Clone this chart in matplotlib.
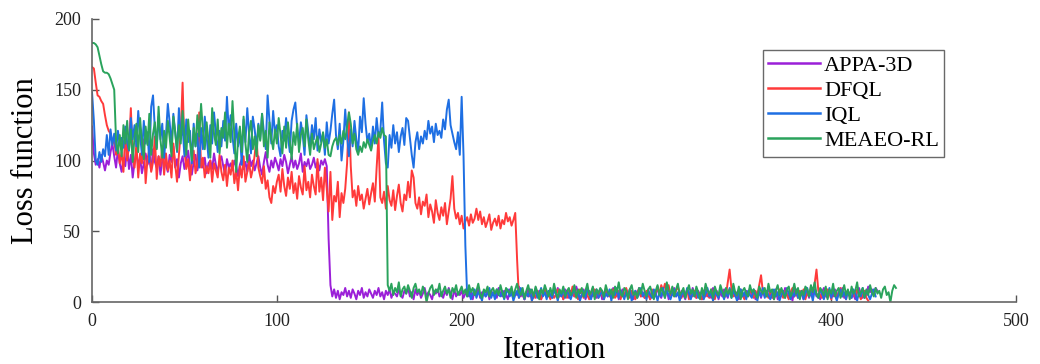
import matplotlib
matplotlib.use("Agg")
import matplotlib.pyplot as plt

# ---------------- data ----------------
series_names = ["APPA-3D", "DFQL", "IQL", "MEAEO-RL"]
x_ticks = [0, 100, 200, 300, 400, 500]
y_ticks = [0, 50, 100, 150, 200]

appa_high = [
    124, 105, 97, 101, 95, 104, 99, 93, 100, 97, 106, 112, 103, 95, 108, 98, 92, 101, 96, 110,
    94, 104, 88, 99, 107, 96, 102, 91, 98, 105, 97, 101, 93, 108, 99, 95, 103, 90, 100, 106,
    97, 92, 104, 99, 110, 95, 101, 88, 98, 103, 94, 100, 107, 96, 90, 99, 104, 93, 101, 97,
    95, 102, 91, 98, 100, 94, 105, 97, 92, 99, 103, 96, 90, 101, 95, 98, 93, 100, 96, 89,
    97, 101, 94, 99, 92, 104, 96, 100, 93, 98, 103, 95, 90, 99, 106, 97, 92, 100, 95, 102,
    98, 93, 101, 96, 104, 99, 91, 97, 103, 95, 100, 94, 98, 105, 92, 99, 96, 101, 94, 97,
    102, 95, 99, 93, 100, 97, 101, 96,
]
appa_low = [
    45, 12, 4, 9, 3, 8, 2, 7, 5, 10, 4, 8, 3, 9, 6, 2, 8, 5, 10, 3,
    7, 4, 9, 6, 3, 8, 5, 10, 4, 7, 2, 8, 5, 9, 3, 7, 6, 4, 9, 5,
    3, 8, 6, 10, 4, 7, 2, 9, 5, 8, 3, 6, 10, 4, 7, 5, 2, 8, 6, 9,
    4, 7, 3, 8, 5, 10, 6, 2, 9, 4, 7, 5, 8, 3, 6, 9, 4, 7, 2, 8,
    5, 10, 3, 7, 6, 4, 9, 2, 8, 5, 7, 3, 10, 6, 4, 8, 5, 2, 9, 6,
    3, 7, 5, 11, 4, 8, 2, 6, 9, 4, 7, 3, 10, 5, 8, 2, 6, 9, 4, 7,
    5, 3, 8, 6, 10, 4, 7, 2, 9, 5, 3, 8, 6, 4, 11, 7, 3, 5, 9, 2,
    6, 8, 4, 10, 5, 3, 7, 9, 2, 6, 8, 4, 7, 3, 10, 5, 8, 2, 6, 9,
    4, 7, 3, 9, 5, 2, 8, 6, 10, 4, 7, 3, 5, 9, 2, 8, 6, 4, 11, 5,
    3, 8, 6, 9, 2, 7, 5, 10, 4, 6, 3, 8, 5, 2, 9, 7, 4, 10, 6, 3,
    8, 5, 2, 7, 9, 4, 6, 3, 10, 5, 8, 2, 7, 4, 9, 6, 3, 8, 5, 11,
    4, 7, 2, 9, 6, 3, 8, 5, 10, 4, 7, 2, 6, 9, 3, 8, 5, 4, 10, 6,
    3, 7, 9, 2, 5, 8, 4, 10, 6, 3, 7, 1, 9, 5, 8, 4, 6, 2, 10, 7,
    3, 8, 5, 9, 4, 6, 2, 7, 10, 5, 3, 8, 6, 4, 9, 2, 7, 5, 10, 3,
    6, 8, 4, 9, 5, 2, 7, 10, 6, 3, 8, 5, 11, 7, 9, 6, 10, 8,
]

dfql_high = [
    166, 165, 155, 146, 145, 142, 140, 132, 125, 121, 119, 112, 114, 104, 110, 98, 106, 92, 120, 100,
    110, 137, 102, 95, 112, 88, 105, 98, 115, 84, 101, 108, 92, 99, 117, 87, 103, 96, 110, 90,
    105, 93, 100, 88, 112, 97, 85, 104, 120, 155, 108, 94, 101, 86, 99, 107, 91, 98, 134, 95,
    102, 88, 96, 91, 100, 85, 98, 93, 88, 104, 92, 86, 97, 82, 95, 90, 100, 84, 93, 79,
    96, 88, 103, 85, 92, 99, 88, 94, 104, 116, 95, 89, 84, 96, 80, 86, 74, 70, 82, 77,
    85, 90, 78, 94, 82, 75, 88, 80, 92, 77, 84, 73, 89, 81, 76, 96, 79, 85, 74, 90,
    82, 76, 101, 78, 88, 72, 95, 80,
    64, 92, 58, 75, 71, 85, 60, 77, 70, 80, 98, 134, 96, 74, 79, 68, 82, 72, 76, 66,
    73, 80, 69, 77, 84, 71, 95, 117, 74, 70, 78, 66, 82, 72, 68, 79, 65, 75, 83, 70,
    64, 76, 72, 85, 74, 93, 88, 70, 66, 74, 62, 71, 68, 76, 60, 69, 64, 56, 72, 63,
    58, 67, 61, 70, 55, 64, 73, 89, 66, 59, 63, 55, 61, 52, 57, 60, 54, 62, 56, 59,
    66, 58, 64, 55, 60, 53, 57, 62, 51, 56, 59, 54, 61, 52, 58, 55, 63, 57, 60, 54,
    58, 63, 30,
]
dfql_low = [
    3, 8, 5, 2, 7, 4, 9, 1, 6, 3, 8, 5, 2, 7, 10, 4, 6, 2, 8, 3,
    5, 9, 4, 7, 2, 6, 3, 8, 5, 11, 4, 7, 2, 9, 6, 3, 8, 5, 2, 7,
    4, 9, 6, 3, 8, 5, 2, 10, 7, 4, 6, 9, 3, 5, 8, 2, 7, 4, 10, 6,
    3, 8, 5, 2, 7, 9, 4, 6, 3, 8, 5, 2, 9, 4, 7, 10, 6, 12, 8, 13,
    7, 12, 5, 9, 4, 8, 11, 6, 3, 7, 5, 9, 2, 6, 4, 8, 3, 7, 5, 2,
    8, 4, 6, 3, 9, 5, 2, 7, 4, 8, 6, 3, 5, 14, 23, 9, 4, 7, 3, 6,
    8, 5, 2, 7, 4, 9, 6, 3, 8, 5, 12, 19, 7, 4, 6, 3, 8, 5, 2, 7,
    4, 9, 6, 3, 8, 5, 2, 7, 10, 4, 6, 3, 8, 5, 9, 2, 7, 4, 11, 8,
    13, 23, 8, 5, 3, 7, 4, 9, 6, 2, 8, 5, 3, 7, 10, 4, 6, 2, 8, 5,
    3, 7, 4, 9, 6, 2, 5, 8, 3, 1,
]

iql_high = [
    148, 128, 100, 97, 106, 99, 108, 103, 118, 104, 122, 111, 119, 107, 121, 112, 116, 109, 124, 113,
    107, 130, 115, 125, 110, 135, 118, 104, 128, 112, 120, 99, 138, 146, 122, 109, 131, 115, 126, 102,
    118, 140, 127, 111, 133, 120, 106, 137, 116, 124, 103, 129, 113, 121, 98, 126, 110, 119, 95, 123,
    108, 131, 117, 102, 125, 112, 134, 119, 106, 121, 110, 128, 114, 145, 120, 132, 117, 105, 126, 110,
    120, 97, 129, 113, 137, 118, 105, 131, 122, 109, 126, 115, 133, 120, 108, 146, 128, 112, 135, 119,
    125, 110, 103, 121, 114, 130, 117, 106, 128, 136, 141, 123, 112, 127, 118, 104, 132, 120, 109, 125,
    115, 130, 107, 122, 113, 119, 104, 127, 112, 121, 133, 143, 118, 108, 126, 100, 114, 136, 117, 103,
    122, 110, 128, 115, 106, 131, 120, 144, 126, 113, 119, 108, 124, 112, 130, 117, 121, 141, 114, 98,
    95, 118, 109, 125, 112, 120, 106, 117, 123, 111, 130, 128, 116, 104, 95, 113, 120, 108, 117, 112,
    121, 115, 128, 119, 124, 113, 126, 118, 121, 116, 129, 122, 136, 143, 125, 119, 113, 108, 120, 104,
    145, 104, 40,
]
iql_low = [
    4, 8, 2, 6, 9, 3, 7, 5, 1, 8, 4, 6, 10, 3, 7, 2, 9, 5, 4, 8,
    2, 6, 9, 4, 7, 1, 5, 8, 3, 10, 6, 2, 7, 4, 9, 1, 5, 8, 3, 6,
    10, 4, 7, 2, 8, 5, 3, 9, 6, 1, 7, 4, 10, 3, 8, 5, 2, 6, 9, 4,
    7, 1, 5, 8, 3, 10, 6, 2, 7, 4, 9, 3, 5, 8, 2, 6, 4, 9, 1, 7,
    5, 10, 3, 8, 6, 2, 7, 4, 9, 1, 5, 8, 3, 6, 10, 4, 7, 2, 8, 5,
    3, 9, 6, 1, 7, 4, 10, 3, 8, 5, 2, 6, 9, 4, 7, 1, 5, 8, 3, 10,
    6, 2, 7, 4, 9, 3, 5, 8, 2, 6, 10, 4, 7, 1, 8, 5, 3, 9, 6, 2,
    7, 4, 10, 3, 8, 5, 1, 6, 9, 4, 7, 2, 8, 5, 3, 9, 6, 1, 7, 4,
    10, 3, 8, 5, 2, 6, 9, 4, 7, 1, 5, 8, 3, 10, 6, 2, 7, 4, 9, 3,
    5, 8, 2, 6, 10, 4, 7, 1, 8, 5, 3, 9, 6, 2, 7, 4, 10, 3, 8, 5,
    1, 6, 9, 4, 7, 2, 8, 5, 3, 9, 6, 1, 7, 4, 10, 3, 8, 5, 2, 6, 9, 4,
]

meaeo_high = [
    183, 183, 182, 180, 174, 168, 163, 162, 162, 161, 158, 154, 150, 114, 105, 118, 103, 125, 112, 128,
    108, 122, 99, 117, 126, 106, 130, 113, 101, 124, 111, 133, 104, 119, 127, 108, 138, 115, 102, 121,
    109, 128, 116, 103, 131, 120, 107, 125, 112, 135, 118, 104, 129, 114, 100, 123, 110, 132, 117, 140,
    121, 108, 127, 114, 102, 137, 119, 111, 129, 105, 123, 116, 134, 109, 126, 113, 142, 118, 92, 115,
    124, 106, 131, 112, 99, 120, 128, 108, 117, 103, 125, 114, 133, 110, 121, 102, 127, 116, 108, 122,
    112, 130, 118, 105, 124, 109, 127, 114, 101, 120, 111, 126, 106, 118, 123, 110, 129, 115, 104, 119,
    108, 113, 117, 106, 112, 120, 109, 115, 104, 103, 110, 114, 116, 111, 118, 112, 121, 115, 124, 134,
    126, 112, 119, 108, 104, 110, 106, 113, 109, 115, 111, 107, 114, 118, 112, 120, 116, 123, 118, 117,
]
meaeo_low = [
    12, 8, 13, 5, 10, 7, 14, 4, 9, 11, 6, 12, 8, 3, 10, 13, 7, 9, 5, 11,
    8, 0, 6, 10, 12, 5, 9, 7, 13, 4, 8, 11, 6, 9, 3, 10, 7, 12, 5, 8,
    11, 6, 9, 4, 12, 7, 10, 5, 8, 13, 6, 3, 9, 7, 11, 4, 8, 10, 6, 9,
    5, 12, 7, 3, 10, 8, 6, 11, 4, 9, 13, 7, 5, 10, 3, 8, 12, 6, 9, 4,
    11, 7, 2, 9, 6, 12, 8, 4, 10, 5, 13, 7, 3, 9, 6, 11, 4, 8, 10, 5,
    7, 12, 3, 9, 6, 10, 4, 8, 13, 5, 7, 11, 2, 9, 6, 10, 8, 4, 12, 7,
    5, 9, 3, 11, 7, 14, 6, 4, 10, 8, 2, 9, 12, 5, 7, 3, 10, 6, 13, 8,
    4, 9, 11, 6, 2, 8, 12, 5, 10, 7, 3, 14, 8, 6, 11, 4, 9, 13, 5, 7,
    10, 3, 8, 12, 6, 9, 4, 11, 7, 2, 10, 5, 13, 8, 6, 9, 3, 11, 7, 5,
    12, 8, 4, 10, 6, 9, 3, 13, 7, 5, 11, 2, 8, 10, 6, 4, 12, 7, 9, 5,
    3, 11, 8, 6, 10, 4, 13, 7, 9, 2, 8, 12, 5, 10, 6, 3, 9, 11, 4, 7,
    13, 6, 10, 2, 8, 5, 11, 9, 4, 12, 7, 14, 6, 3, 10, 8, 5, 11, 2, 9,
    6, 13, 4, 8, 10, 3, 7, 12, 5, 9, 2, 11, 6, 8, 14, 4, 7, 10, 3, 9,
    5, 12, 7, 4, 10, 6, 8, 3, 9, 11, 5, 7, 0, 8, 12, 10,
]

appa = appa_high + appa_low
dfql = dfql_high + dfql_low
iql = iql_high + iql_low
meaeo = meaeo_high + meaeo_low
all_series = [appa, dfql, iql, meaeo]
colors = ["#9B1FD8", "#FF3A3A", "#1E6FE3", "#2AA35C"]

# ---------------- figure ----------------
plt.rcParams["font.family"] = ["Liberation Serif", "DejaVu Serif"]
fig = plt.figure(figsize=(10.4, 3.64), dpi=100)
ax = fig.add_axes([0.0885, 0.170, 0.8885, 0.778])

for name, vals, col in zip(series_names, all_series, colors):
    ax.plot(range(len(vals)), vals, color=col, lw=1.4, label=name)

ax.set_xlim(0, 500)
ax.set_ylim(0, 200)
ax.set_xticks(x_ticks)
ax.set_yticks(y_ticks)
ax.tick_params(direction="in", length=5, width=1, colors="#555555",
               labelcolor="#222222", labelsize=13, pad=8)
for side in ["top", "right"]:
    ax.spines[side].set_visible(False)
for side in ["left", "bottom"]:
    ax.spines[side].set_color("#666666")
    ax.spines[side].set_linewidth(1.2)

ax.set_xlabel("Iteration", fontsize=22, labelpad=4)
ax.set_ylabel("Loss function", fontsize=22, labelpad=10)

leg = ax.legend(loc="upper left", bbox_to_anchor=(0.726, 0.89), fontsize=16,
                frameon=True, fancybox=False, edgecolor="#444444",
                handlelength=2.3, handletextpad=0.2, labelspacing=0.2,
                borderpad=0.25, borderaxespad=0)
leg.get_frame().set_linewidth(1.0)
for l in leg.get_lines():
    l.set_linewidth(1.8)

fig.savefig("out.png", dpi=100)
